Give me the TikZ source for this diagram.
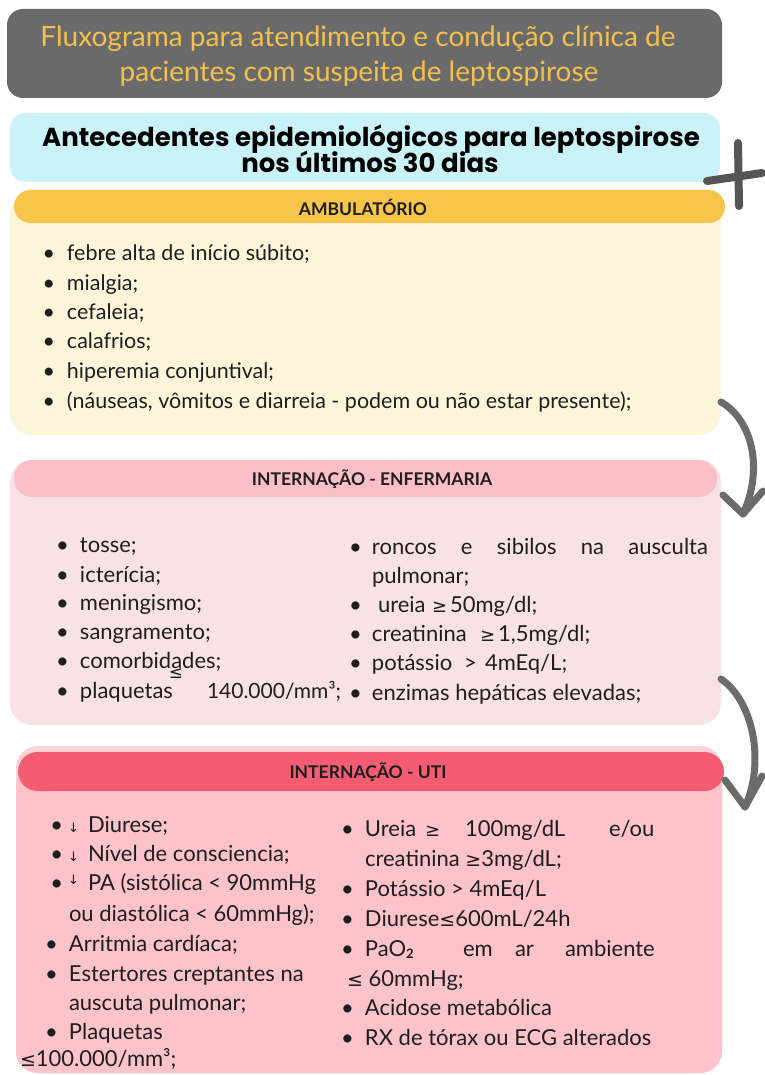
\documentclass[tikz,border=0pt]{standalone}
\usepackage{fontspec}
\setmainfont{Lato}
\newfontfamily\popp{Poppins}
\newfontfamily\dejavu{DejaVu Sans}
\newcommand{\myfs}[1]{\fontsize{#1}{#1}\selectfont}
\newcommand{\bl}[1]{\llap{\textbullet\hspace{#1}}}
\definecolor{titlegray}{HTML}{6A6A6A}
\definecolor{titleyel}{HTML}{F4C04E}
\definecolor{cyanbg}{HTML}{C9F3F8}
\definecolor{ambhdr}{HTML}{F7C54A}
\definecolor{ambbody}{HTML}{FDF5DA}
\definecolor{enfhdr}{HTML}{FCBFC8}
\definecolor{enfbody}{HTML}{F9E2E5}
\definecolor{utihdr}{HTML}{F45C71}
\definecolor{utibody}{HTML}{FDC3CB}
\definecolor{utitop}{HTML}{FBD2D7}
\definecolor{arrowgray}{HTML}{6B6B6B}
\definecolor{plusgray}{HTML}{555555}
\definecolor{ink}{HTML}{1E1E1E}
\tikzset{
  panel/.style={draw=none, inner sep=0pt, outer sep=0pt, rectangle},
  txt/.style={anchor=base west, inner sep=0pt, outer sep=0pt, text=ink},
  amb/.style={txt, font=\myfs{21.5}},
  enf/.style={txt, font=\myfs{22}},
  uti/.style={txt, font=\myfs{22}},
  hdr/.style={anchor=base, inner sep=0pt, text=ink, font=\bfseries\myfs{17.5}},
  arrowline/.style={draw=arrowgray, line width=7pt, line cap=round, line join=round},
  plusline/.style={draw=plusgray, line width=8pt, line cap=round}
}
\begin{document}
\begin{tikzpicture}[x=1pt,y=-1pt]
\useasboundingbox (0,0) rectangle (764,1075);
\fill[white] (0,0) rectangle (764,1075);

% ---------- title ----------
\node[panel, fill=titlegray, rounded corners=16pt, minimum width=715pt, minimum height=89pt] (title) at (364.5,53.5) {};
\node[anchor=base, inner sep=0pt, text=titleyel, font=\myfs{28}] (t1) at (358,47) {Fluxograma para atendimento e condução clínica de};
\node[anchor=base, inner sep=0pt, text=titleyel, font=\myfs{28}] (t2) at (359,82) {pacientes com suspeita de leptospirose};

% ---------- antecedentes ----------
\node[panel, fill=cyanbg, rounded corners=16pt, minimum width=710pt, minimum height=69pt] (ante) at (365,147.5) {};
\node[anchor=base, inner sep=0pt, text=black, font=\popp\bfseries\myfs{26}] (s1) at (371,147) {Antecedentes epidemiológicos para leptospirose};
\node[anchor=base, inner sep=0pt, text=black, font=\popp\bfseries\myfs{26}] (s2) at (370,173) {nos últimos 30 dias};
\draw[plusline] (738,143) -- (739,206);
\draw[plusline] (707,181) -- (762,173);

% ---------- ambulatorio ----------
\node[panel, fill=ambbody, rounded corners=22pt, minimum width=711pt, minimum height=241pt] (amb) at (365.5,314.5) {};
\node[panel, fill=ambhdr, rounded corners=16.5pt, minimum width=711pt, minimum height=33pt] (ambh) at (369.5,206.5) {};
\node[hdr] (ambt) at (363,215) {AMBULATÓRIO};
\node[amb] (a1) at (67,260) {\bl{12pt}febre alta de início súbito;};
\node[amb] (a2) at (67,290) {\bl{12pt}mialgia;};
\node[amb] (a3) at (67,319) {\bl{12pt}cefaleia;};
\node[amb] (a4) at (67,348) {\bl{12pt}calafrios;};
\node[amb] (a5) at (67,378) {\bl{12pt}hiperemia conjuntival;};
\node[amb] (a6) at (67,408) {\bl{12pt}(náuseas, vômitos e diarreia - podem ou não estar presente);};

% ---------- enfermaria ----------
\node[panel, fill=enfbody, rounded corners=22pt, minimum width=711pt, minimum height=265pt] (enf) at (365.5,592.5) {};
\node[panel, fill=enfhdr, rounded corners=18pt, minimum width=703pt, minimum height=37pt] (enfh) at (365.5,478.5) {};
\node[hdr] (enft) at (372,485) {INTERNAÇÃO - ENFERMARIA};
\node[enf] (e1) at (80,552) {\bl{11pt}tosse;};
\node[enf] (e2) at (80,582) {\bl{11pt}icterícia;};
\node[enf] (e3) at (80,610) {\bl{11pt}meningismo;};
\node[enf] (e4) at (80,639) {\bl{11pt}sangramento;};
\node[enf] (e5) at (80,668) {\bl{11pt}comorbidades;};
\node[enf] (e6) at (80,698) {\bl{11pt}plaquetas};
\node[inner sep=0pt, text=ink, font=\dejavu\myfs{17}] (e6le) at (176,674) {≤};
\node[enf, font=\myfs{21}] (e6b) at (207,698) {140.000/mm³;};
\node[enf] (r1) at (372,554) {\bl{10pt}\makebox[336pt][s]{roncos e sibilos na ausculta}};
\node[enf] (r2) at (372,583) {pulmonar;};
\node[enf] (r3) at (378,612) {\bl{16pt}ureia};
\node[enf, font=\dejavu\myfs{18}] (r3g) at (432,612) {≥};
\node[enf] (r3b) at (450,612) {50mg/dl;};
\node[enf] (r4) at (372,641) {\bl{10pt}creatinina};
\node[enf, font=\dejavu\myfs{18}] (r4g) at (480,641) {≥};
\node[enf] (r4b) at (498,641) {1,5mg/dl;};
\node[enf] (r5) at (372,670) {\bl{10pt}potássio};
\node[enf] (r5g) at (464,670) {>};
\node[enf] (r5b) at (485,670) {4mEq/L;};
\node[enf] (r6) at (372,700) {\bl{10pt}enzimas hepáticas elevadas;};

% ---------- UTI ----------
\node[panel, fill=utitop, rounded corners=22pt, minimum width=706pt, minimum height=327pt] (utio) at (369,909.5) {};
\node[panel, fill=utibody, rounded corners=22pt, minimum width=706pt, minimum height=310pt] (uti) at (369,918) {};
\node[panel, fill=utihdr, rounded corners=19.5pt, minimum width=706pt, minimum height=39pt] (utih) at (371,771.5) {};
\node[hdr] (utit) at (368,778) {INTERNAÇÃO - UTI};

\node[uti] (u1) at (88,832) {\llap{\textbullet\hspace{5pt}{\dejavu\myfs{13}↓}\hspace{9pt}}Diurese;};
\node[uti] (u2) at (88,861) {\llap{\textbullet\hspace{5pt}{\dejavu\myfs{13}↓}\hspace{9pt}}Nível de consciencia;};
\node[uti] (u3) at (88,890) {\llap{\textbullet\hspace{5pt}\raisebox{6pt}{\dejavu\myfs{13}↓}\hspace{9pt}}PA (sistólica < 90mmHg};
\node[uti] (u4) at (69,921) {ou diastólica < 60mmHg);};
\node[uti] (u5) at (69,951) {\bl{11pt}Arritmia cardíaca;};
\node[uti] (u6) at (69,981) {\bl{11pt}Estertores creptantes na};
\node[uti] (u7) at (69,1010) {auscuta pulmonar;};
\node[uti] (u8) at (69,1039) {\bl{11pt}Plaquetas};
\node[uti] (u9) at (20,1066) {{\dejavu\myfs{19}≤}100.000/mm³;};

\node[uti] (v1) at (365,836) {\bl{11pt}Ureia};
\node[uti, font=\dejavu\myfs{18}] (v1g) at (425,836) {≥};
\node[uti] (v1b) at (465,836) {100mg/dL};
\node[uti] (v1c) at (609,836) {e/ou};
\node[uti] (v2) at (365,866) {creatinina {\dejavu\myfs{19}≥}3mg/dL;};
\node[uti] (v3) at (365,896) {\bl{11pt}Potássio > 4mEq/L};
\node[uti] (v4) at (365,926) {\bl{11pt}Diurese{\dejavu\myfs{19}≤}600mL/24h};
\node[uti] (v5) at (365,956) {\bl{11pt}PaO\raisebox{-2pt}{\bfseries\myfs{13}2}};
\node[uti] (v5b) at (463,956) {em};
\node[uti] (v5c) at (515,956) {ar};
\node[uti] (v5d) at (565,956) {ambiente};
\node[uti] (v6) at (347,986) {{\dejavu\myfs{19}≤} 60mmHg;};
\node[uti] (v7) at (365,1015) {\bl{11pt}Acidose metabólica};
\node[uti] (v8) at (365,1045) {\bl{11pt}RX de tórax ou ECG alterados};

% ---------- arrows ----------
\coordinate (a1s) at (721,402);
\coordinate (a1e) at (743,514);
\coordinate (a1l) at (723,495);
\coordinate (a1r) at (763,491);
\draw[arrowline] (a1s) .. controls (752,420) and (764,468) .. (a1e);
\draw[arrowline] (a1l) -- (a1e) -- (a1r);
\coordinate (a2s) at (721,679);
\coordinate (a2e) at (745,807);
\coordinate (a2l) at (725,780);
\coordinate (a2r) at (762,776);
\draw[arrowline] (a2s) .. controls (752,700) and (766,760) .. (a2e);
\draw[arrowline] (a2l) -- (a2e) -- (a2r);
\end{tikzpicture}
\end{document}
